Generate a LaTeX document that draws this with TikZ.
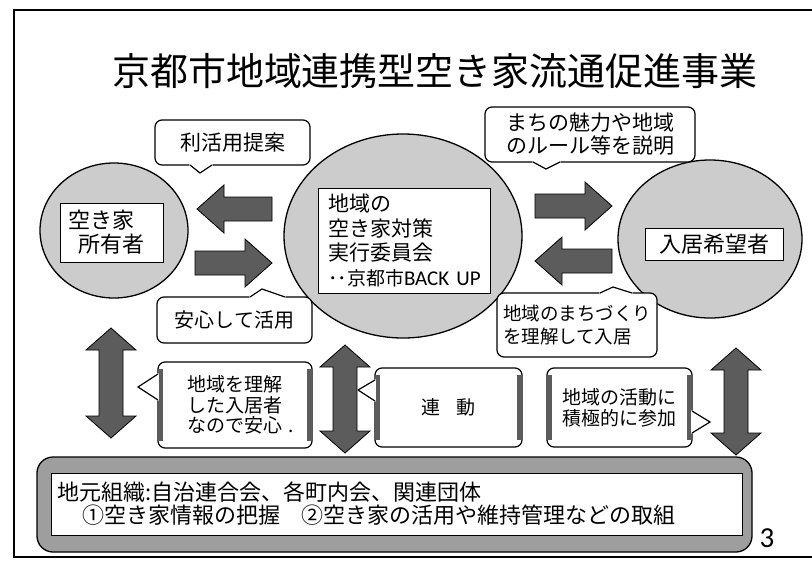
\documentclass[tikz,border=0pt]{standalone}
\usepackage{fontspec}
\setmainfont{Noto Sans CJK JP}
\newfontfamily\latinfont{Carlito}
\usetikzlibrary{shapes.geometric}

\definecolor{circlegray}{gray}{0.80}
\definecolor{arrowgray}{gray}{0.36}
\definecolor{panelgray}{gray}{0.62}

\begin{document}
\begin{tikzpicture}[x=1pt, y=-1pt,
	every node/.style={inner sep=0pt},
	party/.style={ellipse, draw, line width=1.3pt, fill=circlegray},
	namebox/.style={rectangle, draw, line width=1pt, fill=white},
	bubble/.style={rectangle, rounded corners=7pt, draw, line width=1.2pt, fill=white},
	blockarrow/.style={draw=black, line width=0.8pt, fill=arrowgray, line join=miter},
	band/.style={fill=arrowgray}]

\useasboundingbox (0,0) rectangle (812,563);

% frame
\draw[line width=1.5pt] (812,10) -- (14,10) -- (14,557) -- (812,557);

\node(title) at (435,71) {\fontsize{38}{40}\selectfont 京都市地域連携型空き家流通促進事業};

% three parties
\node[party, minimum width=148pt, minimum height=135pt] (owner) at (114,230.5) {};
\node[party, minimum width=238pt, minimum height=204pt] (council) at (403,236) {};
\node[party, minimum width=184pt, minimum height=158pt] (mover) at (710,239) {};

\node[namebox, inner xsep=8pt, text width=87pt, minimum height=59pt, align=left,
	font=\fontsize{22}{24}\selectfont] (ownerbox) at (111.5,232.5) {空き家\\\hspace*{10pt}所有者};
\node[namebox, inner xsep=10pt, text width=152pt, minimum height=105pt, align=left,
	font=\fontsize{21}{24.5}\selectfont] (councilbox) at (404,240.5)
	{地域の\\空き家対策\\実行委員会\\{\fontsize{19}{24.5}\selectfont ･･京都市}{\latinfont\fontsize{21}{24.5}\selectfont BACK~UP}};
\node[namebox, minimum width=138pt, minimum height=32pt,
	font=\fontsize{22}{24}\selectfont] (moverbox) at (714,244) {入居希望者};

% block arrows
\foreach \tail/\tip/\y in {272/197/209, 195/272/263, 535/612/206, 612/535/261}{
	\pgfmathsetmacro\hb{\tip-27*sign(\tip-\tail)}
	\draw[blockarrow] (\tail,\y-12) -- (\hb,\y-12) -- (\hb,\y-24) -- (\tip,\y)
		-- (\hb,\y+24) -- (\hb,\y+12) -- (\tail,\y+12) -- cycle;
}
\foreach \x/\ya/\yb in {111/328/438, 345/345/453, 736/348/455}{
	\draw[blockarrow] (\x,\ya) -- (\x+25,\ya+22) -- (\x+12,\ya+22) -- (\x+12,\yb-22)
		-- (\x+25,\yb-22) -- (\x,\yb) -- (\x-25,\yb-22) -- (\x-12,\yb-22)
		-- (\x-12,\ya+22) -- (\x-25,\ya+22) -- cycle;
}

% bubbles
\node[bubble, minimum width=155pt, minimum height=45pt, font=\fontsize{21}{24}\selectfont] (suggest) at (232.5,142.5) {利活用提案};
\node[bubble, minimum width=155pt, minimum height=46pt, font=\fontsize{20}{24}\selectfont] (relief) at (234.5,320) {安心して活用};
\node[bubble, minimum width=210pt, minimum height=55pt, align=center, font=\fontsize{21}{23}\selectfont] (explain) at (590,134.5) {まちの魅力や地域\\のルール等を説明};
\node[bubble, minimum width=160pt, minimum height=64pt, align=left, font=\fontsize{18.5}{23}\selectfont] (understand) at (577,325) {地域のまちづくり\\を理解して入居};
\node[bubble, minimum width=154pt, minimum height=86pt, align=left, font=\fontsize{19}{20.5}\selectfont] (safe) at (235,405) {地域を理解\\した入居者\\なので安心\rlap{\hspace{6pt}.}};
\node[bubble, minimum width=147pt, minimum height=79pt, font=\fontsize{19}{22}\selectfont] (link) at (448.5,407.5) {連\hspace{0.8em}動};
\node[bubble, minimum width=145pt, minimum height=79pt, align=left, font=\fontsize{19}{21}\selectfont] (join) at (619.5,407.5) {地域の活動に\\積極的に参加};

\foreach \b in {safe, link, join}{
	\fill[band] ([shift={(1,8)}]\b.north west) rectangle ([shift={(6,-8)}]\b.south west);
	\fill[band] ([shift={(-6,8)}]\b.north east) rectangle ([shift={(-1,-8)}]\b.south east);
}

\foreach \ax/\ay/\tx/\ty/\bx/\by in {
190/165/200/173/212/165%
,250/297/262/289/285/297%
,533/162/546/169/560/162%
,600/293/613/287/632/293%
,158/374/138/387/158/400%
,375/380/358/390/375/401%
,692/411/710/422/692/433%
}{
	\filldraw[white, line width=1.6pt, line join=round] (\ax,\ay) -- (\tx,\ty) -- (\bx,\by) -- cycle;
	\draw[line width=1.2pt] (\ax,\ay) -- (\tx,\ty) -- (\bx,\by);
}

% local organisations
\node[rectangle, rounded corners=16pt, draw, line width=1.3pt, fill=panelgray,
	minimum width=715pt, minimum height=95pt] (local) at (394.5,504.5) {};
\node[namebox, inner xsep=6pt, text width=679pt, minimum height=62pt, align=left,
	font=\fontsize{22}{23}\selectfont] (localbox) at (396.5,504)
	{地元組織:自治連合会、各町内会、関連団体\\\hspace*{25pt}①空き家情報の把握　②空き家の活用や維持管理などの取組};

\node(page) at (767,538) {\latinfont\fontsize{29}{30}\selectfont 3};

\end{tikzpicture}
\end{document}
